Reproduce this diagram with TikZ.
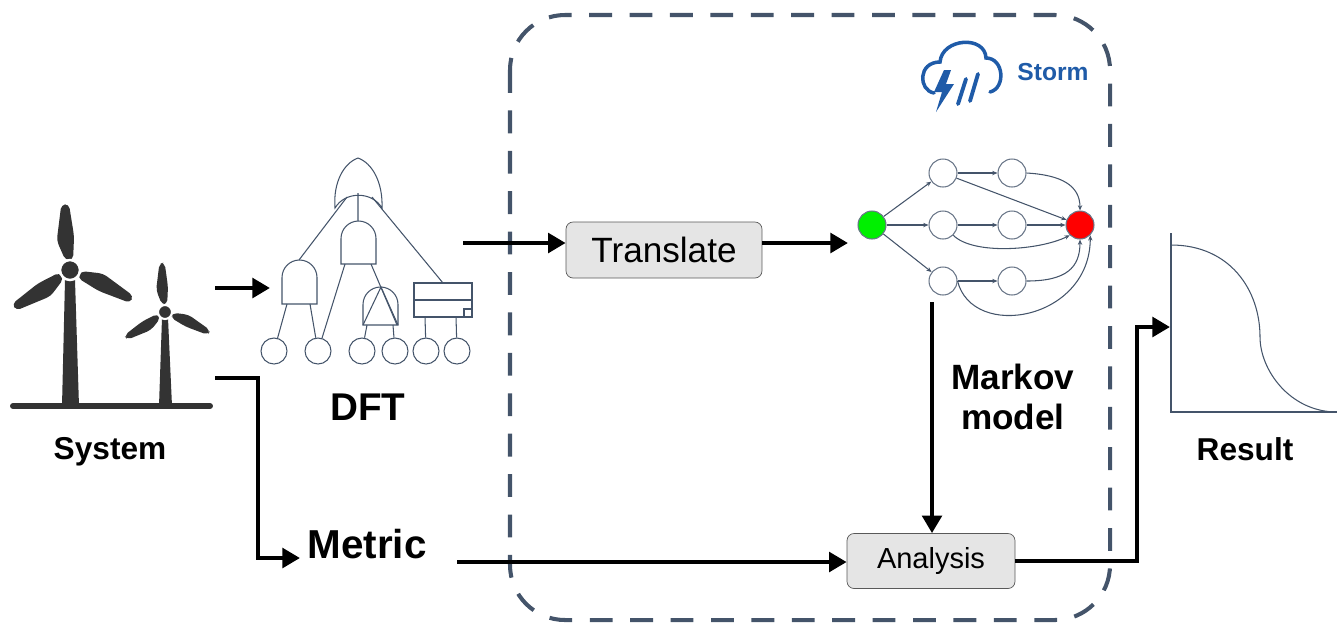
\documentclass[tikz,border=0pt]{standalone}
\usepackage{fontspec}
\setmainfont{Liberation Sans}
\usepackage{tikz}
\usetikzlibrary{arrows.meta,calc,positioning}
\definecolor{slate}{HTML}{44546A}
\definecolor{stormblue}{HTML}{1F5BA8}
\definecolor{turbgray}{HTML}{333333}
\definecolor{startgreen}{HTML}{00F000}

% one rotor blade: hub, tip, half width
\newcommand{\blade}[3]{%
  \fill[turbine, rounded corners=2.5pt]
    ($(#1)!0.15!(#2)!0.35*#3!90:(#2)$) -- ($(#1)!0.45!(#2)!#3!90:(#2)$) --
    ($(#1)!0.98!(#2)!0.35*#3!90:(#2)$) -- ($(#1)!0.98!(#2)!0.35*#3!-90:(#2)$) --
    ($(#1)!0.5!(#2)!0.6*#3!-90:(#2)$) -- ($(#1)!0.15!(#2)!0.35*#3!-90:(#2)$) -- cycle;}
% and gate: centre x, top, bottom, half width
\newcommand{\andgate}[4]{%
  \draw[gate] (#1-#4,#3) -- (#1-#4,#2+#4) arc[start angle=180,end angle=360,radius=#4]
    -- (#1+#4,#3) -- cycle;}

\begin{document}
\begin{tikzpicture}[x=0.02cm, y=-0.02cm, >={Triangle[length=10pt,width=11pt]},
  flow/.style={->, line width=2.8pt, black},
  box/.style={draw=black!65, fill=black!10, rounded corners=4pt, inner sep=0pt},
  lbl/.style={font=\bfseries, inner sep=0pt, anchor=base},
  gate/.style={draw=slate, line width=0.6pt},
  event/.style={circle, draw=slate, line width=0.6pt, minimum size=0.52cm, inner sep=0pt},
  mstate/.style={circle, draw=slate!80, line width=0.6pt, minimum size=0.56cm, inner sep=0pt, fill=white},
  medge/.style={draw=slate, line width=0.6pt, -{Stealth[length=3pt,width=2.5pt]}},
  turbine/.style={fill=turbgray},
  frame/.style={draw=slate, line width=2.3pt, dash pattern=on 13pt off 10pt, rounded corners=1.1cm}]
\useasboundingbox (0,0) rectangle (1337,627);

\draw[frame] (510,15) rectangle (1110,620);

% storm logo
\draw[stormblue, line width=2pt, line cap=round] (934,93) .. controls (918,90) and (918,62) .. (940,62)
  .. controls (942,38) and (985,35) .. (986,58) .. controls (1004,58) and (1006,88) .. (990,92);
\fill[stormblue] (944,70) -- (934,92) -- (942,92) -- (936,112) -- (954,84) -- (946,84) -- (951,70) -- cycle;
\draw[stormblue, line width=2.2pt, line cap=round] (958,104) -- (966,79) (970,101) -- (978,74);
\node[lbl, text=stormblue, font=\bfseries\fontsize{14}{16}\selectfont] (storm) at (1053,80) {Storm};

% wind turbines
\coordinate (hubA) at (70,270);
\coordinate (hubB) at (165,312);
\fill[turbine] (65,280) -- (75,280) -- (79,406) -- (62,406) -- cycle;
\fill[turbine] (162,318) -- (168,318) -- (172,406) -- (159,406) -- cycle;
\draw[turbgray, line width=3.4pt, line cap=round] (13,406) -- (210,406);
\blade{hubA}{65,203}{0.22cm}
\blade{hubA}{13,308}{0.22cm}
\blade{hubA}{133,300}{0.22cm}
\blade{hubB}{162,262}{0.15cm}
\blade{hubB}{125,338}{0.15cm}
\blade{hubB}{210,333}{0.15cm}
\filldraw[turbgray, draw=white, line width=1.4pt] (hubA) circle (10);
\filldraw[turbgray, draw=white, line width=1.2pt] (hubB) circle (7);
\node[lbl, font=\bfseries\fontsize{18}{20}\selectfont] (sys) at (110,459) {System};

% fault tree
\draw[gate] (335,208) .. controls (333,182) and (344,163) .. (358,158) .. controls (372,163) and (383,182) .. (382,208)
  .. controls (372,191) and (345,191) .. cycle;
\andgate{358.5}{221}{264}{17.5}
\andgate{299.5}{260}{304}{17.5}
\andgate{380.5}{287}{325}{17.5}
\draw[gate] (363,325) -- (381,287) -- (398,325);
\draw[gate] (414,283) rectangle (472,317) (414,300) -- (472,300) (464,317) rectangle (472,309);
\foreach \x [count=\i] in {274,318,362,395,426,457}
  \node[event] (e\i) at (\x,351) {};
\draw[gate] (358,193) -- (358,221) (347,197) -- (299,260) (372,197) -- (443,283);
\draw[gate] (287,304) -- (e1) (310,304) -- (e2) (345,264) -- (e2) (371,264) -- (397,325);
\draw[gate] (367,325) -- (e3) (393,325) -- (e4) (425,317) -- (e5) (456,317) -- (e6);
\node[lbl, font=\bfseries\fontsize{22}{24}\selectfont] (dft) at (368,420) {DFT};

\node[lbl, font=\bfseries\fontsize{23}{25}\selectfont] (metric) at (367,558) {Metric};

\node[box, minimum width=3.92cm, minimum height=1.12cm, font=\fontsize{20}{22}\selectfont] (tr) at (664,250) {Translate};
\node[box, minimum width=3.36cm, minimum height=1.1cm, font=\fontsize{16.5}{18}\selectfont] (an) at (931,561) {Analysis};

% markov chain
\node[mstate, fill=startgreen] (s0) at (872,225) {};
\node[mstate] (a1) at (943,173) {};
\node[mstate] (a2) at (1012,173) {};
\node[mstate] (b1) at (943,225) {};
\node[mstate] (b2) at (1012,225) {};
\node[mstate] (c1) at (943,281) {};
\node[mstate] (c2) at (1012,281) {};
\node[mstate, fill=red] (tgt) at (1080,225) {};
\draw[medge] (s0) -- (a1);
\draw[medge] (s0) -- (b1);
\draw[medge] (s0) -- (c1);
\draw[medge] (a1) -- (a2);
\draw[medge] (b1) -- (b2);
\draw[medge] (c1) -- (c2);
\draw[medge] (a1) -- (tgt);
\draw[medge] (b2) -- (tgt);
\draw[medge] (a2.east) .. controls +(35,2) and +(0,-25) .. (tgt.north);
\draw[medge] (b1.south east) .. controls +(20,20) and +(-30,15) .. (tgt.south west);
\draw[medge] (c2.east) .. controls +(40,0) and +(0,28) .. (tgt.south);
\draw[medge] (c1.east) .. controls +(15,60) and +(0,85) .. (tgt.south east);
\node[lbl, anchor=center, align=center, font=\bfseries\fontsize{20}{22.7}\selectfont] (mkv) at (1013,397) {Markov\\model};

% result curve
\draw[gate] (1171,233) -- (1171,412) -- (1337,412);
\draw[gate] (1171,245) .. controls (1230,245) and (1260,290) .. (1260,337) .. controls (1260,370) and (1290,412) .. (1337,412);
\node[lbl, font=\bfseries\fontsize{18}{20}\selectfont] (res) at (1245,460) {Result};

% connectors
\coordinate (sysA) at (215,288);
\coordinate (sysB) at (215,378);
\coordinate (dftIn) at (270,288);
\coordinate (metIn) at (300,558);
\coordinate (metOut) at (457,562);
\coordinate (dftOut) at (463,243);
\coordinate (mkIn) at (848,243);
\coordinate (mkOut) at (932,302);
\coordinate (bend) at (1137,450);
\coordinate (resIn) at (1170,327);
\draw[flow] (sysA) -- (dftIn);
\draw[flow] (sysB) -- (sysB -| 258,0) |- (metIn);
\draw[flow] (dftOut) -- (dftOut -| tr.west);
\draw[flow] (mkIn -| tr.east) -- (mkIn);
\draw[flow] (mkOut) -- (mkOut |- an.north);
\draw[flow] (metOut) -- (metOut -| an.west);
\draw[flow] (an.east) -| (bend) |- (resIn);
\end{tikzpicture}
\end{document}
